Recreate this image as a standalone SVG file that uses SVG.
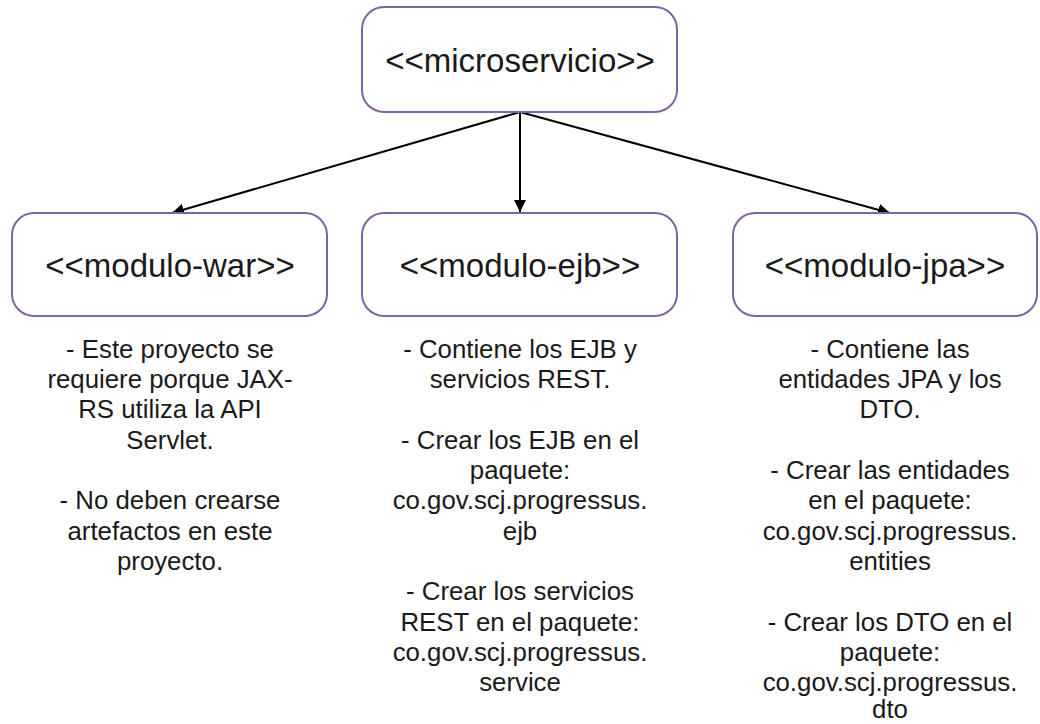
<svg xmlns="http://www.w3.org/2000/svg" width="1040" height="724" viewBox="0 0 1040 724">
<style>
.box{fill:#ffffff;stroke:#8064a2;stroke-width:2}
.lbl{font-family:"Liberation Sans",Arial,sans-serif;font-size:33px;fill:#1a1a1a;text-anchor:middle}
.note{font-family:"Liberation Sans",Arial,sans-serif;font-size:25.8px;fill:#1a1a1a;text-anchor:middle}
.con{stroke:#000;stroke-width:2;fill:none;marker-end:url(#ah)}
</style>
<defs>
<marker id="ah" viewBox="0 0 10 10" refX="10" refY="5" markerWidth="6" markerHeight="6" orient="auto" markerUnits="strokeWidth">
<path d="M0,0 L10,5 L0,10 z" fill="#000"/>
</marker>
</defs>
<rect width="1040" height="724" fill="#ffffff"/>
<g id="connectors">
<line class="con" x1="520" y1="112" x2="172" y2="213"/>
<line class="con" x1="520" y1="112" x2="520" y2="212"/>
<line class="con" x1="520" y1="112" x2="890" y2="213"/>
</g>
<g id="microservicio">
<rect class="box" x="362" y="7" width="315" height="105" rx="22"/>
<text class="lbl" x="520" y="72">&lt;&lt;microservicio&gt;&gt;</text>
</g>
<g id="modulo-war">
<rect class="box" x="12" y="213" width="315" height="103" rx="22"/>
<text class="lbl" x="170" y="277">&lt;&lt;modulo-war&gt;&gt;</text>
</g>
<g id="modulo-ejb">
<rect class="box" x="362" y="213" width="315" height="103" rx="22"/>
<text class="lbl" x="520" y="277">&lt;&lt;modulo-ejb&gt;&gt;</text>
</g>
<g id="modulo-jpa">
<rect class="box" x="733" y="213" width="304" height="103" rx="22"/>
<text class="lbl" x="885" y="277">&lt;&lt;modulo-jpa&gt;&gt;</text>
</g>
<g id="note-war">
<text class="note" x="170" y="358">- Este proyecto se</text>
<text class="note" x="170" y="388">requiere porque JAX-</text>
<text class="note" x="170" y="418">RS utiliza la API</text>
<text class="note" x="170" y="449">Servlet.</text>
<text class="note" x="170" y="509">- No deben crearse</text>
<text class="note" x="170" y="540">artefactos en este</text>
<text class="note" x="170" y="570">proyecto.</text>
</g>
<g id="note-ejb">
<text class="note" x="520" y="358">- Contiene los EJB y</text>
<text class="note" x="520" y="388">servicios REST.</text>
<text class="note" x="520" y="449">- Crear los EJB en el</text>
<text class="note" x="520" y="479">paquete:</text>
<text class="note" x="520" y="509">co.gov.scj.progressus.</text>
<text class="note" x="520" y="540">ejb</text>
<text class="note" x="520" y="600">- Crear los servicios</text>
<text class="note" x="520" y="631">REST en el paquete:</text>
<text class="note" x="520" y="661">co.gov.scj.progressus.</text>
<text class="note" x="520" y="691">service</text>
</g>
<g id="note-jpa">
<text class="note" x="890" y="358">- Contiene las</text>
<text class="note" x="890" y="388">entidades JPA y los</text>
<text class="note" x="890" y="418">DTO.</text>
<text class="note" x="890" y="479">- Crear las entidades</text>
<text class="note" x="890" y="509">en el paquete:</text>
<text class="note" x="890" y="540">co.gov.scj.progressus.</text>
<text class="note" x="890" y="570">entities</text>
<text class="note" x="890" y="631">- Crear los DTO en el</text>
<text class="note" x="890" y="661">paquete:</text>
<text class="note" x="890" y="691">co.gov.scj.progressus.</text>
<text class="note" x="890" y="718">dto</text>
</g>
</svg>
